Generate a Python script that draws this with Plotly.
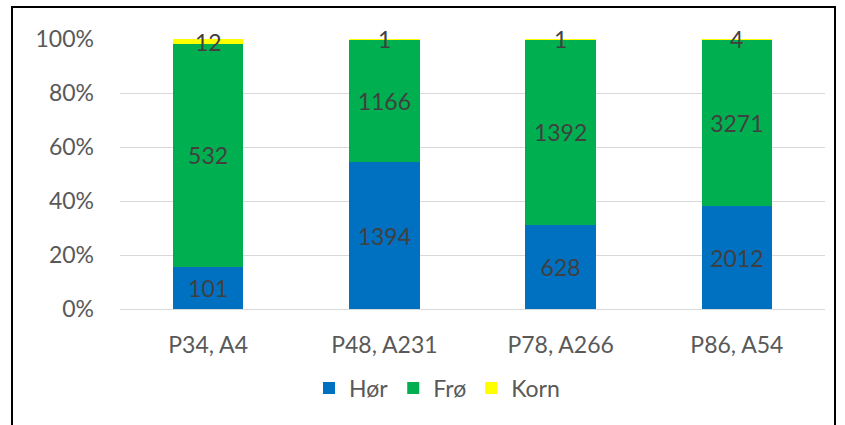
import plotly.graph_objects as go

# Samples and counts per category
categories = ["P34, A4", "P48, A231", "P78, A266", "P86, A54"]
hor = [101, 1394, 628, 2012]
fro = [532, 1166, 1392, 3271]
korn = [12, 1, 1, 4]

series = [
    ("Hør", hor, "#0070C0"),
    ("Frø", fro, "#00B050"),
    ("Korn", korn, "#FFFF00"),
]

FONT = "Lato"
LABEL_FONT = dict(family=FONT, size=23, color="#404040")
W, H = 845, 425
L, R, T, B = 120, 20, 39, 116

fig = go.Figure()
for name, vals, color in series:
    thin = name == "Korn"
    fig.add_trace(go.Bar(
        x=categories, y=vals, name=name,
        marker=dict(color=color, line=dict(width=0)),
        text=None if thin else [str(v) for v in vals],
        texttemplate=None if thin else "%{text}",
        textposition="none" if thin else "inside",
        insidetextanchor="middle",
        textangle=0,
        constraintext="none",
        textfont=LABEL_FONT,
        cliponaxis=False,
    ))

# The top segments are too thin to hold their labels, so place them as
# annotations centred on each segment (percent of the stacked total).
for cat, h, f, k in zip(categories, hor, fro, korn):
    total = h + f + k
    center = 100.0 * (h + f + k / 2.0) / total
    fig.add_annotation(
        x=cat, y=center, xref="x", yref="y", text=str(k),
        showarrow=False, font=LABEL_FONT, xanchor="center", yanchor="middle",
    )

pw = W - L - R
ph = H - T - B

def px_to_x(px):
    return (px - L) / pw

def px_to_y(py):
    return (H - B - py) / ph

# Frame around the chart area (open at the bottom)
fig.add_shape(
    type="path", xref="paper", yref="paper",
    path=(f"M {px_to_x(12)} {px_to_y(440)} L {px_to_x(12)} {px_to_y(7)} "
          f"L {px_to_x(835)} {px_to_y(7)} L {px_to_x(835)} {px_to_y(440)}"),
    line=dict(color="#000000", width=2),
)

fig.update_layout(
    width=W, height=H,
    margin=dict(l=L, r=R, t=T, b=B),
    barmode="stack", barnorm="percent", bargap=0.6,
    plot_bgcolor="white", paper_bgcolor="white",
    font=dict(family=FONT, size=23, color="#595959"),
    uniformtext=dict(mode="show", minsize=23),
    showlegend=True,
    legend=dict(
        orientation="h", x=px_to_x(437), xanchor="center",
        y=px_to_y(388), yanchor="middle",
        font=dict(family=FONT, size=23, color="#595959"),
        itemwidth=30, traceorder="normal",
    ),
    xaxis=dict(
        showline=False, ticks="", showgrid=False, ticklabelstandoff=20,
        tickfont=dict(family=FONT, size=23, color="#595959"),
    ),
    yaxis=dict(
        range=[0, 100], tickvals=[0, 20, 40, 60, 80, 100],
        ticktext=["0%", "20%", "40%", "60%", "80%", "100%"],
        showgrid=True, gridcolor="#D9D9D9", gridwidth=1,
        zeroline=True, zerolinecolor="#D9D9D9", zerolinewidth=1,
        showline=False, ticks="", ticklabelstandoff=25,
        tickfont=dict(family=FONT, size=23, color="#595959"),
    ),
)

fig.write_html("out.html")
